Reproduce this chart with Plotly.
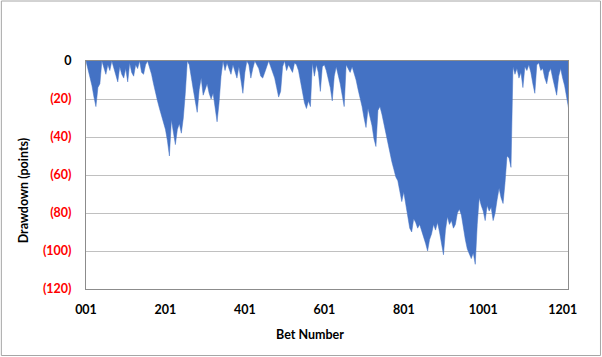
import plotly.graph_objects as go

# Drawdown (points), sampled every 5th bet starting at bet 001
drawdown = [
    0, -4, -9, -13, -19, -24, -14, -12, 0, -3,
    -7, -2, -5, 0, -4, -8, -11, -3, -7, -9,
    -4, -11, -1, -6, -8, -2, -4, 0, -6, -7,
    -2, 0, -3, -7, -12, -17, -21, -25, -29, -32,
    -36, -42, -50, -31, -37, -44, -36, -33, -38, -30,
    -17, 0, -2, -10, -15, -21, -27, -15, -9, -18,
    -15, -12, -17, -20, -17, -24, -32, -22, -8, 0,
    -5, -1, -4, -7, -2, -6, -9, -3, -11, -17,
    -6, 0, -2, -9, -4, 0, -2, -4, -8, -9,
    -6, -3, 0, -3, -6, -9, -14, -19, -16, -3,
    0, -5, -2, -4, -6, -1, -2, -5, -11, -16,
    -22, -25, -21, -24, -1, -8, -2, -6, -16, -3,
    -2, -5, -9, -14, -21, -8, -3, -7, -12, -18,
    -24, -2, -4, -6, -3, -6, -10, -15, -19, -24,
    -30, -35, -25, -29, -34, -41, -45, -26, -24, -28,
    -33, -38, -44, -49, -53, -57, -61, -63, -69, -74,
    -69, -76, -82, -88, -90, -83, -85, -88, -86, -89,
    -92, -96, -100, -94, -91, -86, -89, -85, -90, -96,
    -102, -89, -82, -86, -84, -88, -86, -80, -78, -81,
    -88, -94, -99, -102, -104, -101, -107, -86, -72, -76,
    -79, -84, -76, -79, -77, -84, -80, -73, -67, -72,
    -75, -64, -50, -51, -56, -3, -7, -4, -9, -6,
    -14, -3, -5, -2, -6, -12, -17, -2, -1, -5,
    -4, -9, -12, -6, -4, -9, -14, -18, -8, -4,
    -9, -13, -19, -25,
]
bet_step = 5
bets = list(range(1, 1 + bet_step * len(drawdown), bet_step))

x_tick_vals = [1, 201, 401, 601, 801, 1001, 1201]
x_tick_text = ["001", "201", "401", "601", "801", "1001", "1201"]
y_tick_vals = [0, -20, -40, -60, -80, -100, -120]
y_tick_text = ["0", "(20)", "(40)", "(60)", "(80)", "(100)", "(120)"]

y_tick_labels = [
    f"<b>{t}</b>" if v == 0 else f"<b><span style='color:#ff0000'>{t}</span></b>"
    for v, t in zip(y_tick_vals, y_tick_text)
]

fig = go.Figure()
fig.add_trace(go.Scatter(
    x=bets, y=drawdown, mode="lines", fill="tozeroy",
    line=dict(color="#4472C4", width=0.5),
    fillcolor="#4472C4", hoverinfo="skip",
))

W, H = 602, 357
L, R, T, B = 85.7, 568.0, 61.0, 289.0
pw, ph = R - L, B - T

fig.update_layout(
    width=W, height=H,
    margin=dict(l=L, r=W - R, t=T, b=H - B, pad=0),
    paper_bgcolor="white", plot_bgcolor="white",
    showlegend=False,
    font=dict(family="Lato, Carlito, Arial", size=12, color="#000000"),
    xaxis=dict(
        range=[1, 1214.5], tickvals=x_tick_vals,
        ticktext=[f"<b>{t}</b>" for t in x_tick_text],
        showgrid=False, zeroline=False, showline=True, mirror=True,
        linecolor="#8c8c8c", linewidth=1,
        ticks="outside", ticklen=9, tickcolor="rgba(0,0,0,0)",
        tickfont=dict(size=12.5, color="#000000"),
    ),
    yaxis=dict(
        range=[-120, 0], tickvals=y_tick_vals, ticktext=y_tick_labels,
        showgrid=True, gridcolor="#c0c0c0", gridwidth=1,
        zeroline=False, showline=True, mirror=True,
        linecolor="#8c8c8c", linewidth=1,
        ticks="outside", ticklen=11, tickcolor="rgba(0,0,0,0)",
        tickfont=dict(size=12.5, color="#000000"),
    ),
)

# axis titles
fig.add_annotation(
    text="<b>Bet Number</b>", xref="paper", yref="paper",
    x=(310 - L) / pw, y=(B - 334) / ph, showarrow=False,
    font=dict(size=12.5, color="#000000"), xanchor="center", yanchor="middle",
)
fig.add_annotation(
    text="<b>Drawdown (points)</b>", xref="paper", yref="paper",
    x=(23 - L) / pw, y=(B - 190) / ph, showarrow=False, textangle=-90,
    font=dict(size=12.5, color="#000000"), xanchor="center", yanchor="middle",
)

# chart-area border
fig.add_shape(
    type="rect", xref="paper", yref="paper",
    x0=(1 - L) / pw, x1=(600.5 - L) / pw,
    y0=(B - 355.5) / ph, y1=(B - 1) / ph,
    line=dict(color="#a6a6a6", width=1), fillcolor="rgba(0,0,0,0)", layer="below",
)

fig.write_html(
    "out.html",
    config={"displayModeBar": False, "staticPlot": True},
    post_script="document.body.style.margin='0';document.body.style.overflow='hidden';",
)
